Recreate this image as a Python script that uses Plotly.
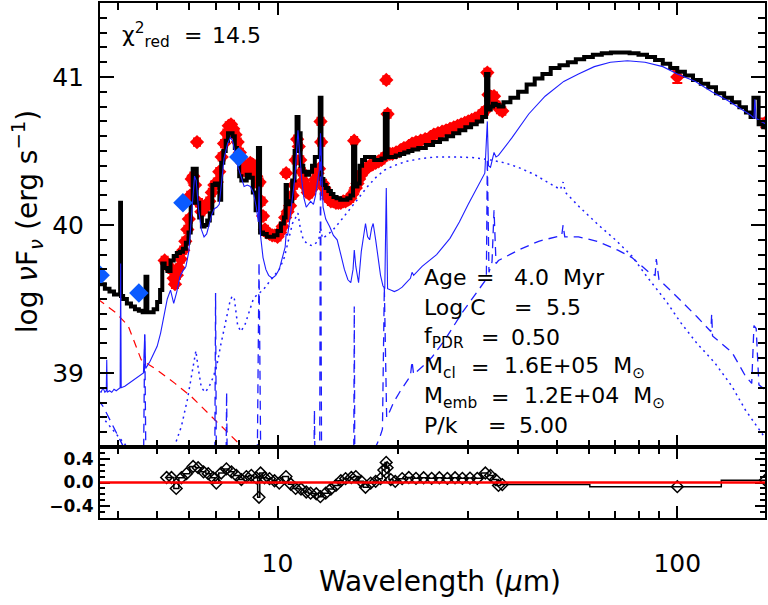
import plotly.graph_objects as go

# ---------------- data ----------------
# IRAC-like photometry (blue diamonds)
phot_wl = [3.6, 4.5, 5.8, 8.0]
phot_lum = [39.66, 39.54, 40.15, 40.46]

# mid-IR spectrum (red points)
spec_wl = [5.22, 5.28, 5.35, 5.43, 5.50, 5.54, 5.60, 5.66, 5.73, 5.81, 5.88, 5.95, 6.00, 6.05, 6.10,
           6.16, 6.22, 6.29, 6.36, 6.45, 6.55, 6.65, 6.75, 6.85, 6.95, 7.05, 7.15, 7.25, 7.35, 7.45,
           7.55, 7.65, 7.75, 7.85, 7.95, 8.05, 8.15, 8.25, 8.35, 8.45, 8.55, 8.65, 8.75, 8.85, 8.95,
           9.02, 9.12, 9.20, 9.30, 9.40, 9.55, 9.70, 9.85, 10.0, 10.15, 10.3, 10.45, 10.51, 10.6, 10.75,
           10.9, 11.0, 11.1, 11.2, 11.3, 11.4, 11.5, 11.6, 11.75, 11.9, 12.0, 12.15, 12.3, 12.45, 12.6,
           12.7, 12.81, 12.86, 13.0, 13.1, 13.25, 13.4, 13.6, 13.8, 14.0, 14.2, 14.4, 14.6, 14.8, 15.0,
           15.2, 15.4, 15.55, 15.7, 15.85, 16.0, 16.2, 16.4, 16.6, 16.8, 17.0, 17.3, 17.6, 17.9, 18.2,
           18.5, 18.71, 18.85, 19.1, 19.4, 19.8, 20.2, 20.7, 21.2, 21.7, 22.2, 22.8, 23.4, 24.0, 24.6,
           25.2, 25.8, 26.4, 27.0, 27.6, 28.2, 28.8, 29.4, 30.0, 30.6, 31.2, 31.8, 32.4, 33.0, 33.48,
           33.7, 34.2, 34.8, 35.3, 36.0, 36.5]
spec_lum = [39.76, 39.74, 39.72, 39.70, 39.64, 39.60, 39.66, 39.71, 39.77, 39.83, 39.89, 39.97, 40.04, 40.20, 40.31,
            40.33, 40.27, 40.56, 40.15, 40.09, 40.11, 40.13, 40.16, 40.22, 40.27, 40.29, 40.36, 40.46, 40.55, 40.62,
            40.67, 40.68, 40.65, 40.61, 40.56, 40.49, 40.42, 40.37, 40.38, 40.40, 40.42, 40.41, 40.37, 40.33, 40.28,
            40.29, 40.16, 40.06, 39.97, 39.95, 39.94, 39.93, 39.93, 39.92, 39.95, 39.99, 40.05, 40.35, 40.09, 40.13,
            40.20, 40.27, 40.44, 40.58, 40.53, 40.44, 40.36, 40.30, 40.26, 40.22, 40.21, 40.24, 40.27, 40.31, 40.35,
            40.38, 40.70, 40.56, 40.28, 40.25, 40.21, 40.18, 40.16, 40.16, 40.15, 40.15, 40.15, 40.16, 40.16, 40.17,
            40.18, 40.21, 40.57, 40.25, 40.28, 40.31, 40.34, 40.36, 40.38, 40.39, 40.40, 40.41, 40.42, 40.43, 40.44,
            40.46, 40.98, 40.75, 40.48, 40.48, 40.49, 40.50, 40.52, 40.53, 40.55, 40.56, 40.57, 40.58, 40.59, 40.61,
            40.62, 40.63, 40.64, 40.65, 40.66, 40.67, 40.68, 40.69, 40.70, 40.71, 40.72, 40.73, 40.75, 40.77, 41.03,
            40.88, 40.84, 40.87, 40.81, 40.78, 40.77]
spec_err = 0.025

# far-IR photometry (red points)
fir_wl = [100.0, 166.0]
fir_lum = [41.00, 40.69]
fir_err = [0.04, 0.03]

# best-fit model binned to the observed grid (thick black steps)
model_wl = [3.55, 3.65, 3.75, 3.85, 3.95, 4.03, 4.05, 4.07, 4.15, 4.25, 4.35, 4.45, 4.55, 4.65, 4.70,
            4.75, 4.85, 4.95, 5.05, 5.12, 5.18, 5.26, 5.35, 5.45, 5.55, 5.65, 5.75, 5.85, 5.95, 6.03,
            6.10, 6.17, 6.24, 6.32, 6.42, 6.52, 6.62, 6.72, 6.82, 6.92, 7.02, 7.12, 7.19, 7.27, 7.37,
            7.47, 7.57, 7.67, 7.77, 7.87, 7.97, 8.07, 8.17, 8.3, 8.45, 8.6, 8.75, 8.88, 8.99, 9.1,
            9.3, 9.5, 9.7, 9.9, 10.1, 10.3, 10.45, 10.51, 10.6, 10.8, 10.97, 11.1, 11.22, 11.35, 11.5,
            11.7, 11.9, 12.1, 12.3, 12.5, 12.7, 12.81, 12.95, 13.1, 13.3, 13.5, 13.7, 13.9, 14.2, 14.5,
            14.8, 15.1, 15.35, 15.55, 15.75, 15.95, 16.15, 16.4, 16.7, 17.0, 17.3, 17.6, 18.0, 18.4, 18.71,
            19.0, 19.5, 20.0, 20.5, 21.0, 21.5, 22.0, 23.0, 24.0, 25.0, 26.0, 27.0, 28.0, 29.0, 30.0,
            31.0, 32.0, 33.0, 33.48, 33.9, 34.4, 34.8, 35.5, 36.0, 37.5, 39.0, 41.0, 43.0, 45.0, 47.0,
            49.5, 52.0, 54.5, 57.0, 60.0, 63.0, 66.5, 70.0, 74.0, 78.0, 82.0, 86.0, 90.0, 94.0, 98.0,
            102.0, 107.0, 112.0, 117.0, 122.0, 128.0, 134.0, 140.0, 146.0, 151.0, 154.0, 156.0, 158.5, 161.0, 167.0]
model_lum = [39.62, 39.60, 39.57, 39.55, 39.53, 39.53, 40.15, 39.52, 39.50, 39.47, 39.45, 39.43, 39.42, 39.41, 39.65,
             39.41, 39.41, 39.43, 39.48, 39.56, 39.74, 39.71, 39.69, 39.76, 39.79, 39.81, 39.82, 39.84, 39.88, 39.95,
             40.15, 40.38, 40.38, 40.15, 40.05, 39.99, 40.00, 40.03, 40.08, 40.27, 40.28, 40.27, 40.17, 40.42, 40.50,
             40.57, 40.62, 40.62, 40.60, 40.52, 40.44, 40.33, 40.30, 40.30, 40.34, 40.32, 40.22, 40.10, 40.52, 39.95,
             39.94, 39.92, 39.92, 39.93, 39.96, 40.01, 40.05, 40.27, 40.14, 40.16, 40.30, 40.50, 40.73, 40.62, 40.40,
             40.36, 40.34, 40.36, 40.40, 40.46, 40.46, 40.86, 40.31, 40.27, 40.25, 40.23, 40.21, 40.19, 40.18, 40.17,
             40.17, 40.18, 40.20, 40.53, 40.26, 40.28, 40.40, 40.44, 40.46, 40.46, 40.46, 40.44, 40.44, 40.45, 40.75,
             40.46, 40.46, 40.47, 40.48, 40.49, 40.50, 40.51, 40.52, 40.54, 40.56, 40.58, 40.60, 40.62, 40.64, 40.66,
             40.68, 40.70, 40.73, 41.02, 40.78, 40.80, 40.82, 40.81, 40.80, 40.83, 40.86, 40.90, 40.95, 40.99, 41.02,
             41.06, 41.08, 41.10, 41.12, 41.135, 41.15, 41.16, 41.165, 41.165, 41.16, 41.15, 41.135, 41.115, 41.09, 41.06,
             41.035, 41.01, 40.98, 40.955, 40.93, 40.89, 40.86, 40.83, 40.795, 40.76, 40.73, 40.86, 40.86, 40.68, 40.66]

# full-resolution total model (thin blue solid)
total_wl = [3.55, 3.62, 3.66, 3.70, 3.73, 3.74, 3.75, 3.8, 3.85, 3.9, 3.95, 4.0, 4.04, 4.052, 4.065,
            4.15, 4.25, 4.35, 4.45, 4.55, 4.62, 4.654, 4.68, 4.8, 4.9, 5.0, 5.1, 5.2, 5.3, 5.4,
            5.5, 5.6, 5.7, 5.8, 5.9, 6.0, 6.1, 6.2, 6.26, 6.35, 6.45, 6.55, 6.65, 6.75, 6.85,
            6.95, 7.05, 7.15, 7.25, 7.35, 7.5, 7.62, 7.72, 7.85, 7.95, 8.1, 8.25, 8.4, 8.55, 8.7,
            8.85, 8.95, 8.99, 9.05, 9.2, 9.35, 9.5, 9.7, 9.9, 10.1, 10.3, 10.45, 10.51, 10.6, 10.75,
            10.9, 11.05, 11.15, 11.25, 11.35, 11.5, 11.65, 11.8, 11.95, 12.1, 12.3, 12.45, 12.6, 12.72, 12.81,
            12.9, 13.0, 13.2, 13.5, 13.8, 14.1, 14.4, 14.7, 15.0, 15.25, 15.45, 15.56, 15.7, 15.95, 16.2,
            16.45, 16.6, 16.8, 17.0, 17.2, 17.35, 17.6, 17.85, 18.1, 18.35, 18.55, 18.71, 18.85, 19.2, 19.6,
            20.0, 20.5, 21.0, 21.5, 21.7, 21.9, 23.0, 25.0, 27.0, 28.5, 30.0, 31.5, 33.0, 33.48, 33.7,
            34.1, 34.8, 35.2, 35.7, 38.6, 42.5, 46.7, 52.0, 56.6, 62.0, 68.0, 75.0, 83.0, 92.0, 100.0,
            111.0, 122.0, 134.0, 147.0, 153.0, 155.5, 156.3, 157.5, 160.0, 167.0]
total_lum = [38.88, 38.87, 38.90, 38.87, 38.88, 39.09, 38.87, 38.88, 38.87, 38.89, 38.88, 38.89, 38.90, 39.74, 38.90,
             38.91, 38.93, 38.95, 38.97, 38.99, 39.00, 39.26, 39.03, 39.08, 39.13, 39.18, 39.27, 39.38, 39.50, 39.56,
             39.47, 39.55, 39.65, 39.69, 39.72, 39.82, 40.05, 40.33, 40.30, 40.10, 39.97, 39.92, 39.94, 40.00, 40.07,
             40.11, 40.12, 40.14, 40.30, 40.45, 40.55, 40.59, 40.57, 40.47, 40.40, 40.33, 40.26, 40.27, 40.26, 40.22,
             40.12, 40.02, 40.26, 39.95, 39.78, 39.70, 39.66, 39.64, 39.66, 39.70, 39.79, 39.85, 39.94, 39.93, 40.05,
             40.18, 40.32, 40.48, 40.64, 40.50, 40.30, 40.18, 40.12, 40.14, 40.16, 40.14, 40.20, 40.30, 40.37, 40.62,
             40.30, 40.12, 40.04, 39.99, 39.93, 39.90, 39.80, 39.70, 39.63, 39.61, 39.70, 39.83, 39.72, 39.61, 39.82,
             39.95, 40.01, 39.92, 39.90, 39.98, 40.01, 39.90, 39.78, 39.66, 39.59, 39.57, 40.25, 39.57, 39.56, 39.55,
             39.56, 39.58, 39.61, 39.64, 39.68, 39.66, 39.72, 39.80, 39.91, 40.02, 40.14, 40.25, 40.35, 40.70, 40.40,
             40.39, 40.49, 40.46, 40.47, 40.59, 40.75, 40.87, 40.97, 41.02, 41.07, 41.10, 41.11, 41.10, 41.07, 41.02,
             40.97, 40.90, 40.84, 40.77, 40.74, 40.72, 40.85, 40.72, 40.71, 40.68]

# diffuse / PDR component (blue dotted)
pdr_wl = [3.55, 3.7, 3.85, 4.0, 4.15, 4.5, 5.0, 5.35, 5.55, 5.75, 5.95, 6.1, 6.2, 6.25, 6.32,
          6.45, 6.6, 6.75, 6.9, 7.05, 7.2, 7.4, 7.6, 7.7, 7.8, 7.95, 8.1, 8.3, 8.5, 8.7,
          8.9, 9.2, 9.5, 9.8, 10.1, 10.4, 10.7, 10.9, 11.1, 11.25, 11.4, 11.6, 11.9, 12.2, 12.5,
          12.7, 12.81, 12.95, 13.3, 13.8, 14.5, 15.3, 16.0, 16.8, 17.6, 18.5, 19.5, 21.0, 23.0, 25.0,
          28.0, 31.0, 34.0, 37.0, 40.0, 44.0, 48.0, 51.0, 51.8, 52.5, 57.0, 63.5, 70.0, 77.0, 84.0,
          93.5, 102.0, 112.0, 124.0, 137.0, 148.0, 162.0, 170.0]
pdr_lum = [38.74, 38.68, 38.62, 38.57, 38.52, 38.35, 38.30, 38.38, 38.52, 38.64, 38.82, 39.00, 39.11, 39.15, 39.05,
           38.90, 38.87, 38.91, 38.97, 39.05, 39.18, 39.34, 39.48, 39.52, 39.50, 39.32, 39.28, 39.33, 39.42, 39.50,
           39.53, 39.56, 39.61, 39.66, 39.70, 39.78, 39.93, 40.01, 40.05, 40.08, 39.98, 39.90, 39.87, 39.86, 39.88,
           39.91, 39.98, 39.91, 39.93, 39.97, 40.04, 40.12, 40.19, 40.26, 40.32, 40.37, 40.40, 40.43, 40.45, 40.46,
           40.46, 40.455, 40.44, 40.42, 40.39, 40.34, 40.28, 40.24, 40.29, 40.22, 40.12, 40.00, 39.90, 39.79, 39.65,
           39.49, 39.34, 39.20, 39.07, 38.91, 38.75, 38.60, 38.52]

# embedded / compact component (blue dashed)
hii_wl = [3.55, 3.65, 3.75, 3.85, 3.95, 4.05, 4.15, 4.3, 4.55, 4.62, 4.654, 4.69, 5.0, 6.0, 6.96,
          7.0, 7.04, 7.42, 7.46, 7.5, 8.5, 8.88, 8.99, 9.1, 10.0, 12.3, 12.37, 12.44, 12.74, 12.81,
          12.9, 15.5, 15.56, 15.62, 17.2, 17.6, 18.0, 18.3, 18.5, 18.75, 19.0, 19.5, 20.2, 21.0, 21.5,
          21.7, 21.9, 23.4, 24.4, 26.3, 29.0, 31.8, 33.0, 33.3, 33.48, 33.8, 34.4, 34.8, 35.2, 35.7,
          40.0, 45.0, 50.0, 51.4, 51.8, 52.3, 56.6, 63.0, 71.0, 77.0, 85.0, 88.0, 88.6, 90.0, 96.0,
          102.0, 112.0, 121.3, 121.9, 122.5, 137.0, 148.0, 153.5, 155.5, 157.5, 160.0, 167.0]
hii_lum = [38.82, 38.78, 38.72, 38.66, 38.60, 38.55, 38.49, 38.40, 38.30, 38.30, 39.26, 38.30, 38.2, 38.1, 38.1,
           39.54, 38.1, 38.1, 38.87, 38.1, 38.1, 38.1, 39.75, 38.1, 38.1, 38.1, 38.75, 38.1, 38.1, 40.55,
           38.1, 38.1, 39.45, 38.1, 38.2, 38.50, 38.56, 38.62, 39.58, 38.70, 38.73, 38.80, 38.87, 38.94, 38.98,
           39.08, 38.99, 39.06, 39.11, 39.23, 39.41, 39.56, 39.62, 39.65, 40.45, 39.68, 39.75, 40.10, 39.74, 39.76,
           39.83, 39.89, 39.92, 39.93, 40.00, 39.92, 39.92, 39.89, 39.83, 39.78, 39.68, 39.66, 39.77, 39.63, 39.56,
           39.49, 39.38, 39.28, 39.40, 39.25, 39.14, 38.98, 38.93, 39.32, 39.30, 38.92, 38.88]

# stellar photospheric continuum (red dashed)
star_wl = [3.55, 3.63, 3.93, 4.23, 4.4, 4.56, 4.94, 5.54, 6.09, 6.83, 7.5, 7.96, 8.5]
star_lum = [39.50, 39.48, 39.41, 39.32, 39.20, 39.09, 39.03, 38.93, 38.84, 38.71, 38.60, 38.53, 38.44]

# residuals (data - model, dex)
res_wl = [5.28, 5.43, 5.58, 5.75, 5.92, 6.15, 6.33, 6.53, 6.71, 6.90, 7.03, 7.23, 7.45, 7.67, 7.89,
          8.12, 8.36, 8.60, 8.85, 8.99, 9.07, 9.28, 9.55, 9.83, 10.1, 10.5, 10.8, 11.1, 11.45, 11.8,
          12.1, 12.5, 12.8, 13.2, 13.6, 14.0, 14.4, 14.8, 15.3, 15.7, 16.2, 16.6, 17.1, 17.6, 18.1,
          18.45, 18.7, 18.8, 19.2, 19.7, 20.5, 21.3, 22.2, 23.2, 24.3, 25.4, 26.6, 27.8, 29.0, 30.3,
          31.6, 33.1, 34.1, 35.1, 35.7, 36.5, 100.0, 166.0]
res_val = [0.085, 0.085, -0.10, 0.08, 0.15, 0.27, 0.25, 0.18, 0.15, 0.08, -0.01, 0.16, 0.23, 0.18, 0.12,
           0.05, 0.10, 0.12, 0.08, -0.25, 0.16, 0.08, 0.065, 0.03, -0.01, 0.10, -0.03, -0.10, -0.11, -0.16,
           -0.18, -0.19, -0.24, -0.18, -0.11, -0.05, 0.03, 0.065, 0.085, 0.10, 0.02, -0.08, -0.01, 0.02, 0.065,
           0.21, 0.34, 0.25, 0.05, 0.02, 0.065, 0.085, 0.07, 0.08, 0.07, 0.08, 0.07, 0.08, 0.07, 0.075,
           0.07, 0.16, 0.12, 0.05, -0.05, -0.035, -0.07, 0.04]

# fit parameters: (label, value) with the left edges (px) of label, "=" and value
fit_params = [("Age", "4.0\u00a0\u00a0Myr"),
              ("Log C", "5.5"),
              ("f<sub>PDR</sub>", "0.50"),
              ("M<sub>cl</sub>", "1.6E+05\u00a0\u00a0M<sub>⊙</sub>"),
              ("M<sub>emb</sub>", "1.2E+04\u00a0\u00a0M<sub>⊙</sub>"),
              ("P/k", "5.00")]
param_eq_x = [475, 513, 480, 470, 490, 487]
param_val_x = [513, 545, 510, 503, 523, 518]
param_y = [277, 307, 337, 367, 397, 425]

for a, b in [(spec_wl, spec_lum), (model_wl, model_lum), (total_wl, total_lum),
             (pdr_wl, pdr_lum), (hii_wl, hii_lum), (star_wl, star_lum), (res_wl, res_val)]:
    assert len(a) == len(b)

# ---------------- figure ----------------
FONT = "DejaVu Sans"
BLUE = "rgb(30,30,255)"
W, H = 768, 605
ML, MR, MT, MB = 100, 1, 3, 87
PW, PH = W - ML - MR, H - MT - MB
split = (518 - 447) / PH

fig = go.Figure()

fig.add_trace(go.Scatter(
    x=spec_wl, y=spec_lum, mode="markers",
    marker=dict(symbol="diamond", size=11, color="red"),
    error_y=dict(type="constant", value=spec_err, color="red", thickness=2, width=4),
    xaxis="x", yaxis="y"))
fig.add_trace(go.Scatter(
    x=fir_wl, y=fir_lum, mode="markers",
    marker=dict(symbol="diamond", size=11, color="red"),
    error_y=dict(type="data", array=fir_err, color="red", thickness=2, width=5),
    xaxis="x", yaxis="y"))
fig.add_trace(go.Scatter(
    x=model_wl, y=model_lum, mode="lines", line=dict(color="black", width=4, shape="hvh"),
    xaxis="x", yaxis="y"))
fig.add_trace(go.Scatter(
    x=star_wl, y=star_lum, mode="lines", line=dict(color="red", width=1.2, dash="8px,6px"),
    xaxis="x", yaxis="y"))
fig.add_trace(go.Scatter(
    x=hii_wl, y=hii_lum, mode="lines", line=dict(color=BLUE, width=1.3, dash="9px,6px"),
    xaxis="x", yaxis="y"))
fig.add_trace(go.Scatter(
    x=pdr_wl, y=pdr_lum, mode="lines", line=dict(color=BLUE, width=1.5, dash="2px,4px"),
    xaxis="x", yaxis="y"))
fig.add_trace(go.Scatter(
    x=total_wl, y=total_lum, mode="lines", line=dict(color=BLUE, width=1.1),
    xaxis="x", yaxis="y"))
fig.add_trace(go.Scatter(
    x=phot_wl, y=phot_lum, mode="markers",
    marker=dict(symbol="diamond", size=15, color="rgb(10,90,255)"),
    xaxis="x", yaxis="y"))

# residual panel
fig.add_trace(go.Scatter(
    x=res_wl, y=res_val, mode="lines+markers",
    line=dict(color="black", width=1.5, shape="hvh"),
    marker=dict(symbol="diamond-open", size=9, color="black", line=dict(width=1.5, color="black")),
    xaxis="x2", yaxis="y2"))

xr = [0.556, 0.556 + PW / 401.0]
axis_common = dict(showline=True, linewidth=2, linecolor="black", mirror="ticks",
                   showgrid=False, zeroline=False, ticks="inside", tickcolor="black")

fig.update_layout(
    width=W, height=H, margin=dict(l=ML, r=MR, t=MT, b=MB),
    paper_bgcolor="white", plot_bgcolor="white", showlegend=False,
    font=dict(family=FONT, color="black"),
    xaxis=dict(domain=[0, 1], anchor="y", type="log", range=xr, dtick=1,
               showticklabels=False, ticklen=12, tickwidth=2,
               minor=dict(ticks="inside", ticklen=7, tickwidth=1.5, tickcolor="black", dtick="D1"),
               **axis_common),
    yaxis=dict(domain=[split, 1], anchor="x", range=[38.5, 41.5], tickmode="linear", tick0=39, dtick=1,
               ticklen=14, tickwidth=2, tickfont=dict(size=25, family=FONT), ticklabelstandoff=9,
               minor=dict(ticks="inside", ticklen=7, tickwidth=1.5, tickcolor="black", dtick=0.1),
               **axis_common),
    xaxis2=dict(domain=[0, 1], anchor="y2", type="log", range=xr, dtick=1,
                ticklen=12, tickwidth=2, tickfont=dict(size=25, family=FONT), ticklabelstandoff=22,
                minor=dict(ticks="inside", ticklen=7, tickwidth=1.5, tickcolor="black", dtick="D1"),
                **axis_common),
    yaxis2=dict(domain=[0, split], anchor="x2", range=[-0.6, 0.6], tickmode="linear", tick0=-0.4, dtick=0.4,
                tickformat=".1f", ticklen=10, tickwidth=2, ticklabelstandoff=1,
                tickfont=dict(size=17, family=FONT, weight="bold"),
                minor=dict(ticks="inside", ticklen=5, tickwidth=1.5, tickcolor="black", dtick=0.1),
                **axis_common),
)

# zero line of the residual panel
fig.add_shape(type="line", xref="x2 domain", x0=0, x1=1, yref="y2", y0=0, y1=0,
              line=dict(color="red", width=2.5), layer="above")


def px_x(px):
    return (px - ML) / PW


def px_y(py):
    return (MT + PH - py) / PH


ann_font = dict(family=FONT, size=22, color="black")


def put_text(txt, x_px, y_px):
    fig.add_annotation(x=px_x(x_px), y=px_y(y_px), xref="paper", yref="paper", xanchor="left",
                       yanchor="middle", text=txt, showarrow=False, font=ann_font)


# goodness of fit
put_text("χ<sup>2</sup><sub>red</sub>", 120, 35)
put_text("=", 182, 35)
put_text("14.5", 210, 35)

# model parameters
for (label, value), xe, xv, yy in zip(fit_params, param_eq_x, param_val_x, param_y):
    put_text(label, 423, yy)
    put_text("=", xe, yy)
    put_text(value, xv, yy)

# axis titles
fig.add_annotation(x=px_x(27), y=px_y(222), xref="paper", yref="paper", xanchor="center", yanchor="middle",
                   text="log <i>ν</i>F<sub><i>ν</i></sub> (erg s<sup>−1</sup>)", textangle=-90,
                   showarrow=False, font=dict(family=FONT, size=28, color="black"))
fig.add_annotation(x=px_x(441), y=px_y(581), xref="paper", yref="paper", xanchor="center", yanchor="middle",
                   text="Wavelength (<i>μ</i>m)", showarrow=False,
                   font=dict(family=FONT, size=28, color="black"))

fig.write_html("out.html")
